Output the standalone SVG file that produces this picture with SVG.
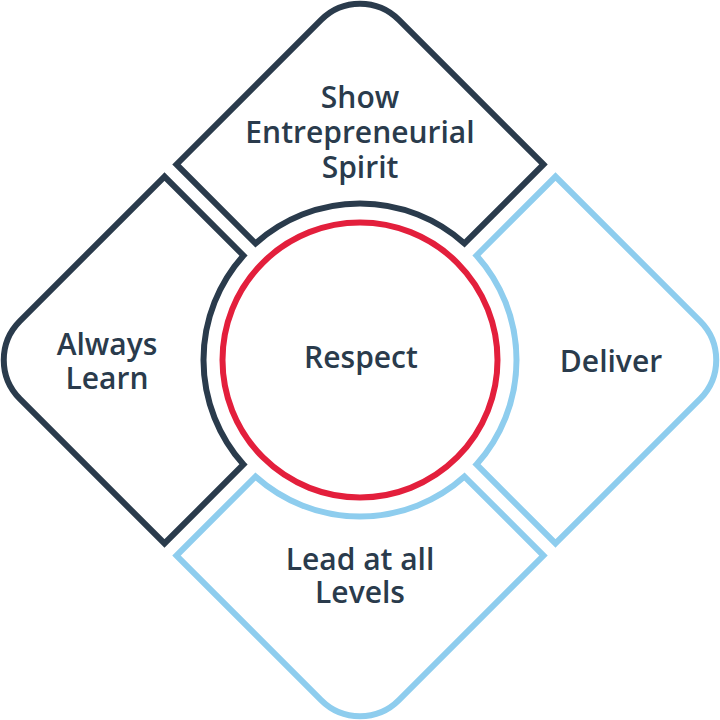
<svg xmlns="http://www.w3.org/2000/svg" xmlns:xlink="http://www.w3.org/1999/xlink" width="720" height="720" viewBox="0 0 720 720">
  <style>
    .dark { fill: none; stroke: #2a3b4c; stroke-width: 6; }
    .light { fill: none; stroke: #8ecdee; stroke-width: 6; }
    .red { fill: none; stroke: #e31f3c; stroke-width: 6; }
    .lbl { font-family: "Open Sans", "Noto Sans", "Liberation Sans", sans-serif; font-weight: 600; font-size: 30px; fill: #2a3b4c; text-anchor: middle; }
  </style>
  <defs>
    <path id="quad" d="M351.5,92 H147 A55,55 0 0 0 92,147 V351.5 H203.73 A156.5,156.5 0 0 1 351.5,203.73 Z"/>
  </defs>
  <rect width="720" height="720" fill="#ffffff"/>
  <g id="node-top">
    <use xlink:href="#quad" href="#quad" class="dark" transform="rotate(45 360 360)"/>
    <text class="lbl"><tspan x="360" y="108">Show</tspan><tspan x="360" y="143">Entrepreneurial</tspan><tspan x="360" y="178">Spirit</tspan></text>
  </g>
  <g id="node-left">
    <use xlink:href="#quad" href="#quad" class="dark" transform="rotate(315 360 360)"/>
    <text class="lbl"><tspan x="107" y="355">Always</tspan><tspan x="107" y="389">Learn</tspan></text>
  </g>
  <g id="node-right">
    <use xlink:href="#quad" href="#quad" class="light" transform="rotate(135 360 360)"/>
    <text class="lbl" x="611" y="372">Deliver</text>
  </g>
  <g id="node-bottom">
    <use xlink:href="#quad" href="#quad" class="light" transform="rotate(225 360 360)"/>
    <text class="lbl"><tspan x="360" y="570">Lead at all</tspan><tspan x="360" y="603">Levels</tspan></text>
  </g>
  <g id="node-center">
    <circle class="red" cx="360" cy="360" r="137.5"/>
    <text class="lbl" x="361" y="368">Respect</text>
  </g>
  <g id="connectors"></g>
</svg>
